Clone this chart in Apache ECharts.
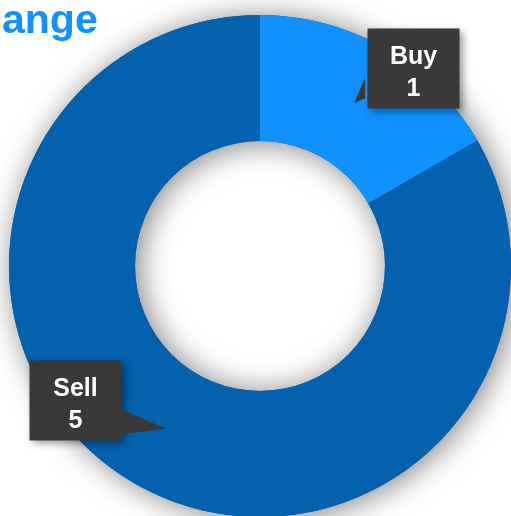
<!DOCTYPE html>
<html>
<head>
<meta charset="utf-8">
<script src="https://cdn.jsdelivr.net/npm/echarts@6/dist/echarts.min.js"></script>
<style>
  html, body { margin: 0; padding: 0; background: #fff; }
  #chart { width: 511px; height: 516px; }
</style>
</head>
<body>
<div id="chart"></div>
<script>
// 数据
const categories = ['Buy', 'Sell'];
const values = [1, 5];
const colors = ['#1190ff', '#0461ae'];
const labelOffsets = [[58, -32], [-89, -31]];

const center = [260, 266];
const radius = [125, 251];
const boxColor = '#3b3937';

const chart = echarts.init(document.getElementById('chart'));

// 计算每个扇区 label 指针的位置
const total = values.reduce((a, b) => a + b, 0);
const rMid = (radius[0] + radius[1]) / 2;
let acc = 0;
const tails = values.map((v, i) => {
  const mid = (acc + v / 2) / total * Math.PI * 2;
  acc += v;
  const tip = [center[0] + rMid * Math.sin(mid), center[1] - rMid * Math.cos(mid)];
  const left = labelOffsets[i][0] > 0;
  const bx = left ? tip[0] + 11 : tip[0] - 48;
  const pts = left
    ? [tip, [bx, tip[1] - 25], [bx, tip[1] - 5]]
    : [tip, [bx, tip[1] - 21], [bx, tip[1] + 6]];
  return {
    type: 'polygon',
    z: 100,
    shape: { points: pts },
    style: { fill: boxColor }
  };
});

const option = {
  animation: false,
  title: {
    text: 'ange',
    left: -3,
    top: -4,
    textStyle: {
      color: '#1190ff',
      fontSize: 41,
      fontWeight: 'bold',
      fontFamily: 'Liberation Sans, Arial, sans-serif'
    }
  },
  graphic: tails,
  series: [
    {
      // 阴影底环
      type: 'pie',
      silent: true,
      center: center,
      radius: radius,
      label: { show: false },
      labelLine: { show: false },
      itemStyle: {
        color: '#0461ae',
        shadowBlur: 30,
        shadowOffsetX: 4,
        shadowOffsetY: 2,
        shadowColor: 'rgba(0,0,0,0.5)'
      },
      data: [1]
    },
    {
      type: 'pie',
      center: center,
      radius: radius,
      startAngle: 90,
      clockwise: true,
      labelLine: { show: false },
      label: {
        show: true,
        position: 'inside',
        formatter: '{s| }\n{b}\n{c}',
        color: '#fff',
        fontSize: 25,
        fontWeight: 'bold',
        fontFamily: 'Liberation Sans, Arial, sans-serif',
        lineHeight: 32,
        width: 60,
        align: 'center',
        backgroundColor: boxColor,
        padding: [3, 16, 3, 16],
        shadowBlur: 8,
        shadowOffsetX: 3,
        shadowOffsetY: 3,
        shadowColor: 'rgba(0,0,0,0.4)',
        rich: {
          s: { fontSize: 2, lineHeight: 10 }
        }
      },
      data: categories.map((name, i) => ({
        name: name,
        value: values[i],
        itemStyle: { color: colors[i] },
        label: { offset: labelOffsets[i] }
      }))
    }
  ]
};

chart.setOption(option);
</script>
</body>
</html>
